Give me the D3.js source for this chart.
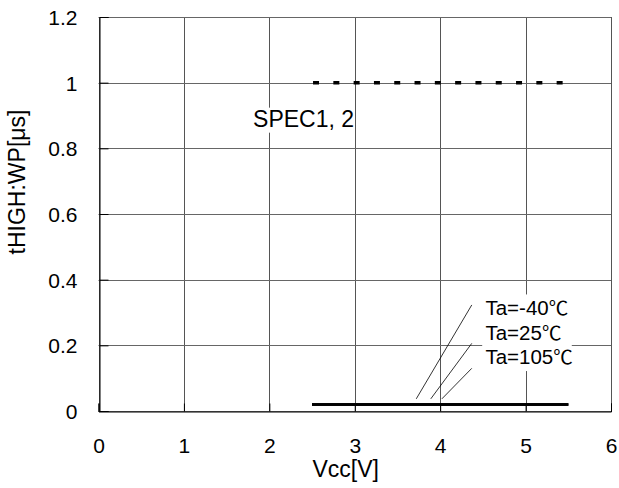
<!DOCTYPE html>
<html>
<head>
<meta charset="utf-8">
<script src="https://cdn.jsdelivr.net/npm/d3@7"></script>
<style>
  body { margin: 0; background: #fff; }
  svg { display: block; }
  text { font-family: "Liberation Sans", Arial, sans-serif; fill: #000; }
</style>
</head>
<body>
<script>
// chart values
var xTicks = [0, 1, 2, 3, 4, 5, 6];
var yTicks = [0, 0.2, 0.4, 0.6, 0.8, 1, 1.2];
var specVcc = [2.5, 5.5];
var specVal = [1, 1];
var tempNames = ["Ta=-40", "Ta=25", "Ta=105"];
var measVcc = [2.5, 5.5];
var measVals = [[0.02, 0.02], [0.02, 0.02], [0.02, 0.02]];
// where the leader lines from the labels touch the curves
var leaderStart = [[4.37, 0.323], [4.37, 0.206], [4.37, 0.13]];
var leaderEnd = [[3.72, 0.037], [3.89, 0.037], [4.02, 0.037]];
var labelPos = [[4.53, 0.291], [4.53, 0.216], [4.53, 0.143]];

var width = 619, height = 488;
var margins = {top: 17, left: 98.5, right: 8, bottom: 77};

var svg = d3.select("body").append("svg")
    .attr("width", width)
    .attr("height", height);

var x = d3.scaleLinear().domain([0, 6]).range([margins.left, width - margins.right]);
var y = d3.scaleLinear().domain([0, 1.2]).range([height - margins.bottom, margins.top]);

var fmt = function (d) { return String(+d.toFixed(1)); };

// grid
var grid = svg.append("g").attr("class", "grid");
grid.selectAll("line.v").data(xTicks)
    .enter().append("line")
    .attr("class", "v")
    .attr("x1", function (d) { return Math.round(x(d)) + 0.5; })
    .attr("x2", function (d) { return Math.round(x(d)) + 0.5; })
    .attr("y1", y(1.2))
    .attr("y2", y(0))
    .style("stroke", "#555")
    .style("stroke-width", 1);

grid.selectAll("line.h").data(yTicks)
    .enter().append("line")
    .attr("class", "h")
    .attr("x1", x(0))
    .attr("x2", x(6))
    .attr("y1", function (d) { return Math.round(y(d)) + 0.5; })
    .attr("y2", function (d) { return Math.round(y(d)) + 0.5; })
    .style("stroke", "#666")
    .style("stroke-width", 1);

// axes
var xAxis = d3.axisBottom(x).tickValues(xTicks).tickSize(-8).tickPadding(27).tickFormat(fmt);
var yAxis = d3.axisLeft(y).tickValues(yTicks).tickSize(-9).tickPadding(22).tickFormat(fmt);

var xg = svg.append("g")
    .attr("transform", "translate(0," + (Math.round(y(0)) + 0.5) + ")")
    .call(xAxis);
var yg = svg.append("g")
    .attr("transform", "translate(" + (Math.round(x(0)) + 0.5) + ",0)")
    .call(yAxis);

[xg, yg].forEach(function (g) {
    g.select(".domain").style("stroke", "#000");
    g.selectAll(".tick line").style("stroke", "#000");
    g.selectAll(".tick text")
        .style("font-family", "'Liberation Sans', Arial, sans-serif")
        .style("font-size", "21px")
        .style("fill", "#000");
});
yg.selectAll(".tick text").attr("dy", "0.36em");

svg.append("text")
    .attr("x", x(3) - 9)
    .attr("y", 477)
    .attr("text-anchor", "middle")
    .style("font-size", "23px")
    .text("Vcc[V]");

svg.append("text")
    .attr("transform", "translate(25," + 182 + ") rotate(-90)")
    .attr("text-anchor", "middle")
    .style("font-size", "23px")
    .text("tHIGH:WP[\u03bcs]");

// label boxes sit over the grid
function boxedLabel(tx, ty, str, size, unit) {
    var g = svg.append("g");
    var rect = g.append("rect").style("fill", "#fff");
    var t = g.append("text")
        .attr("x", tx)
        .attr("y", ty)
        .style("font-size", size + "px")
        .text(str);
    if (unit) {
        t.append("tspan")
            .style("font-family", "'Noto Sans CJK JP', sans-serif")
            .style("font-size", (size - 1) + "px")
            .text(unit);
    }
    var bb = t.node().getBBox();
    rect.attr("x", bb.x - 3)
        .attr("y", bb.y + 2)
        .attr("width", bb.width + 2)
        .attr("height", bb.height - 1);
    return g;
}

boxedLabel(x(1.81), y(0.866), "SPEC1, 2", 23);

tempNames.forEach(function (s, i) {
    boxedLabel(x(labelPos[i][0]), y(labelPos[i][1]), s, 20.5, "\u2103");
});

// leader lines
svg.selectAll("line.leader").data(leaderStart)
    .enter().append("line")
    .attr("class", "leader")
    .attr("x1", function (d) { return x(d[0]); })
    .attr("y1", function (d) { return y(d[1]); })
    .attr("x2", function (d, i) { return x(leaderEnd[i][0]); })
    .attr("y2", function (d, i) { return y(leaderEnd[i][1]); })
    .style("stroke", "#000")
    .style("stroke-width", 0.8);

// spec line
var line = d3.line()
    .x(function (d) { return x(d[0]); })
    .y(function (d) { return y(d[1]); });

svg.append("path")
    .datum(specVcc.map(function (v, i) { return [v, specVal[i]]; }))
    .attr("d", line)
    .style("fill", "none")
    .style("stroke", "#000")
    .style("stroke-width", 3.5)
    .style("stroke-dasharray", "6,14.3")
    .attr("transform", "translate(1,0)");

// measured curves (overlapping)
svg.selectAll("path.meas").data(measVals)
    .enter().append("path")
    .attr("class", "meas")
    .attr("d", function (vals) {
        return line(measVcc.map(function (v, i) { return [v, vals[i]]; }));
    })
    .style("fill", "none")
    .style("stroke", "#000")
    .style("stroke-width", 2.5);
</script>
</body>
</html>
